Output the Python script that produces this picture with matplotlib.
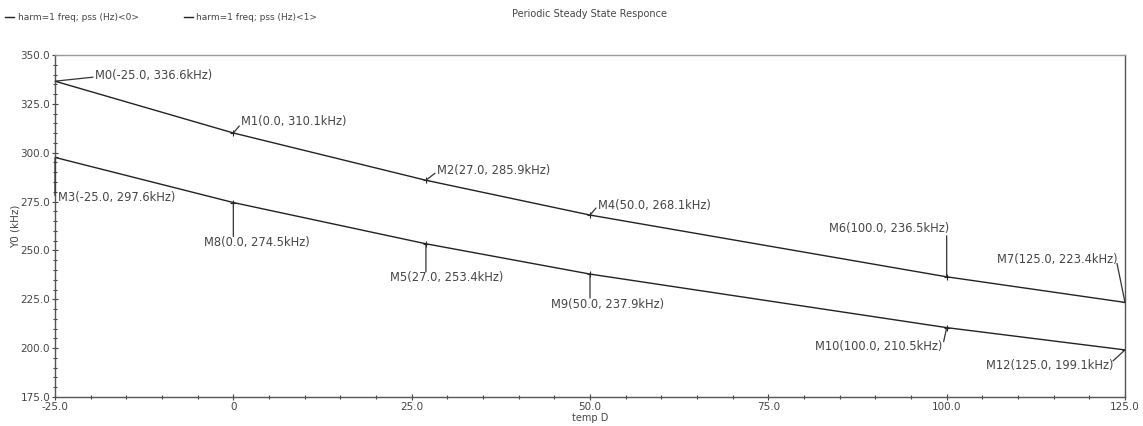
import matplotlib
matplotlib.use("Agg")
import matplotlib.pyplot as plt
from matplotlib.ticker import MultipleLocator, FuncFormatter

# ---- data ----
temp = [-25.0, 0.0, 27.0, 50.0, 100.0, 125.0]
freq0 = [336.6, 310.1, 285.9, 268.1, 236.5, 223.4]   # harm=1 freq; pss (Hz)<0>
freq1 = [297.6, 274.5, 253.4, 237.9, 210.5, 199.1]   # harm=1 freq; pss (Hz)<1>
labels0 = ["M0", "M1", "M2", "M4", "M6", "M7"]
labels1 = ["M3", "M8", "M5", "M9", "M10", "M12"]
series_names = ["harm=1 freq; pss (Hz)<0>", "harm=1 freq; pss (Hz)<1>"]
title = "Periodic Steady State Responce"
xlabel = "temp D"
ylabel = "Y0 (kHz)"

# ---- annotation layout: leader end offset (px), text offset (px), ha ----
ann0 = [((38, 4), (40, 6), "left"),
        ((6, 7), (8, 11), "left"),
        ((9, 7), (11, 10), "left"),
        ((6, 7), (8, 10), "left"),
        ((0, 41), (3, 48), "right"),
        ((-8, 39), (-7, 43), "right")]
ann1 = [((0, -38), (3, -40), "left"),
        ((0, -34), (-29, -40), "left"),
        ((0, -28), (-36, -34), "left"),
        ((0, -24), (-39, -30), "left"),
        ((-3, -14), (-4, -19), "right"),
        ((-12, -11), (-12, -16), "right")]

W, H = 1143, 426
fig = plt.figure(figsize=(W / 100, H / 100), dpi=100)
ax = fig.add_axes([55 / W, (H - 397) / H, 1070 / W, 342 / H])

txtc = "#454545"
linec = "#222222"
l0, = ax.plot(temp, freq0, color=linec, lw=1.0, label=series_names[0])
l1, = ax.plot(temp, freq1, color=linec, lw=1.0, label=series_names[1])
ax.plot(temp, freq0, ls="none", marker="+", ms=4, mew=0.8, color=linec)
ax.plot(temp, freq1, ls="none", marker="+", ms=4, mew=0.8, color=linec)

def annotate_series(xs, ys, names, layout):
    for x, y, n, (lead, toff, ha) in zip(xs, ys, names, layout):
        ax.annotate("", xy=(x, y), xytext=lead, textcoords="offset pixels",
                    arrowprops=dict(arrowstyle="-", color="#333333", lw=0.9,
                                    shrinkA=0, shrinkB=0),
                    annotation_clip=False)
        ax.annotate(f"{n}({x:.1f}, {y:.1f}kHz)", xy=(x, y),
                    xytext=toff, textcoords="offset pixels",
                    ha=ha, va="center", fontsize=8.3, color=txtc,
                    annotation_clip=False)

annotate_series(temp, freq0, labels0, ann0)
annotate_series(temp, freq1, labels1, ann1)

ax.set_xlim(-25, 125)
ax.set_ylim(175, 350)
ax.xaxis.set_major_locator(MultipleLocator(25))
ax.xaxis.set_minor_locator(MultipleLocator(5))
ax.yaxis.set_major_locator(MultipleLocator(25))
ax.yaxis.set_minor_locator(MultipleLocator(5))
ax.xaxis.set_major_formatter(FuncFormatter(lambda v, p: "0" if abs(v) < 1e-9 else f"{v:.1f}"))
ax.yaxis.set_major_formatter(FuncFormatter(lambda v, p: f"{v:.1f}"))
ax.tick_params(which="both", direction="inout", colors="#444444", labelcolor=txtc,
               labelsize=7.5, width=0.8)
ax.tick_params(which="major", length=5, pad=1)
ax.tick_params(which="minor", length=3)
for s in ax.spines.values():
    s.set_color("#555555")
    s.set_linewidth(1.0)
ax.spines["top"].set_color("#999999")

ax.set_xlabel(xlabel, fontsize=7, color=txtc, labelpad=0)
ax.xaxis.set_label_coords(0.5, -0.048)
ax.set_ylabel(ylabel, fontsize=7.5, color=txtc)
ax.yaxis.set_label_coords(-0.032, 0.5)

fig.text(0.516, 1 - 14 / H, title, ha="center", va="center", fontsize=7, color=txtc)
fig.legend(handles=[l0, l1], loc="upper left", bbox_to_anchor=(5 / W, 1 - 13 / H),
           ncol=2, frameon=False, fontsize=6.5, handlelength=1.0, handletextpad=0.4,
           columnspacing=5.0, borderaxespad=0, borderpad=0, labelcolor=txtc)

fig.savefig("out.png", dpi=100, facecolor="white")
